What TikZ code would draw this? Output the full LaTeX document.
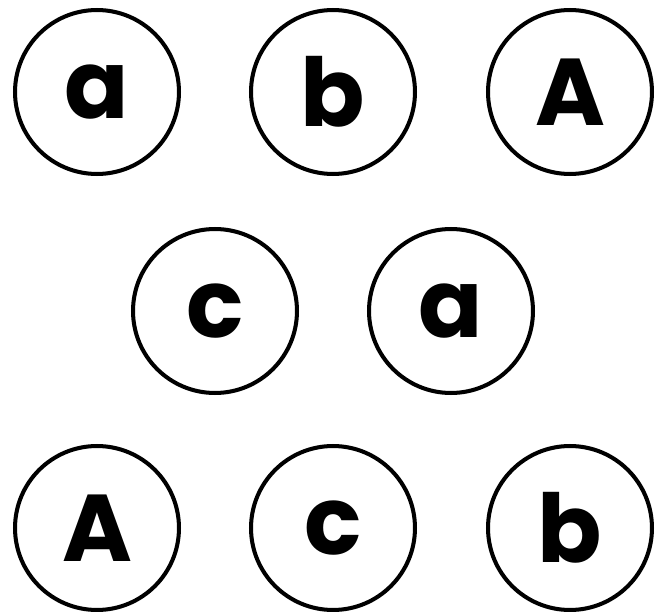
\documentclass[tikz,border=0pt]{standalone}
\usepackage{fontspec}
\newfontfamily\letterfont{Poppins}[UprightFont=* Bold]
\usepackage{tikz}
\usetikzlibrary{positioning}

\begin{document}
\begin{tikzpicture}[
  x=0.02cm, y=-0.02cm,
  ring/.style={draw, line width=2.3pt, circle, minimum size=3.28cm, inner sep=0pt},
  glyph/.style={inner sep=0pt, font=\letterfont\fontsize{54}{54}\selectfont}
]
\useasboundingbox (0,0) rectangle (664,612);
% top row
\node[ring] (c1) at (97,92) {};
\node[ring] (c2) at (333,92) {};
\node[ring] (c3) at (570,92) {};
% middle row
\node[ring] (c4) at (215,311) {};
\node[ring] (c5) at (451,311) {};
% bottom row
\node[ring] (c6) at (97,528) {};
\node[ring] (c7) at (333,528) {};
\node[ring] (c8) at (570,528) {};
% letters
\node[glyph] (l1) at (c1) {a};
\node[glyph] (l2) at (c2) {b};
\node[glyph] (l3) at (c3) {A};
\node[glyph] (l4) at (c4) {c};
\node[glyph] (l5) at (c5) {a};
\node[glyph] (l6) at (c6) {A};
\node[glyph] (l7) at (c7) {c};
\node[glyph] (l8) at (c8) {b};
\end{tikzpicture}
\end{document}
